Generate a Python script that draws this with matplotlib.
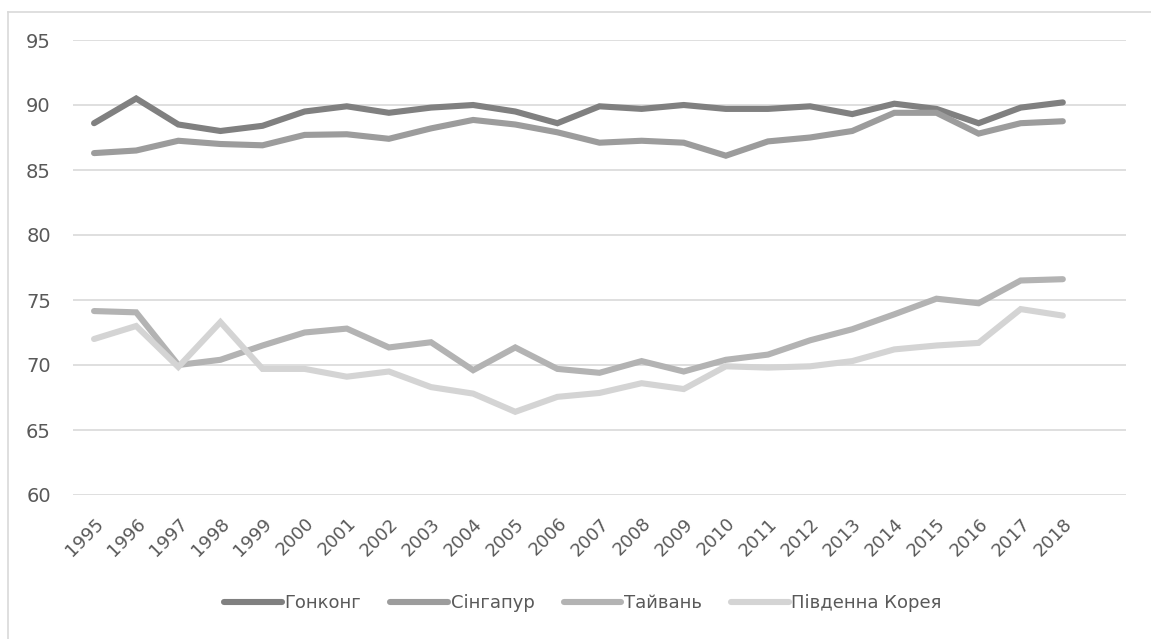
import matplotlib
matplotlib.use("Agg")
import matplotlib.pyplot as plt
from matplotlib.lines import Line2D

years = [str(y) for y in range(1995, 2019)]
hong_kong = [88.6, 90.5, 88.5, 88.0, 88.4, 89.5, 89.9, 89.4, 89.8, 90.0, 89.5, 88.6,
             89.9, 89.7, 90.0, 89.7, 89.7, 89.9, 89.3, 90.1, 89.7, 88.6, 89.8, 90.2]
singapore = [86.3, 86.5, 87.25, 87.0, 86.9, 87.7, 87.75, 87.4, 88.2, 88.85, 88.5, 87.9,
             87.1, 87.25, 87.1, 86.1, 87.2, 87.5, 88.0, 89.4, 89.4, 87.8, 88.6, 88.75]
taiwan = [74.15, 74.05, 70.0, 70.4, 71.5, 72.5, 72.8, 71.35, 71.75, 69.6, 71.35, 69.7,
          69.4, 70.3, 69.5, 70.4, 70.8, 71.9, 72.75, 73.9, 75.1, 74.75, 76.5, 76.6]
korea = [72.0, 73.0, 69.85, 73.3, 69.7, 69.7, 69.1, 69.5, 68.3, 67.8, 66.4, 67.55,
         67.85, 68.6, 68.15, 69.9, 69.8, 69.9, 70.3, 71.2, 71.5, 71.7, 74.3, 73.8]
series_names = ["Гонконг", "Сінгапур", "Тайвань", "Південна Корея"]
y_ticks = [60, 65, 70, 75, 80, 85, 90, 95]

colors = ["#808080", "#9c9c9c", "#b3b3b3", "#d4d4d4"]

fig = plt.figure(figsize=(11.51, 6.39), dpi=100)
ax = fig.add_axes([73/1151, 1-495/639, (1126-73)/1151, (495-40)/639])

x = list(range(len(years)))
for vals, name, c in zip([hong_kong, singapore, taiwan, korea], series_names, colors):
    ax.plot(x, vals, color=c, lw=4.4, solid_capstyle="round", solid_joinstyle="miter", label=name)

ax.set_xlim(-0.5, len(years) + 0.5)
ax.set_ylim(60, 95)
ax.set_yticks(y_ticks)
ax.set_yticklabels([str(v) for v in y_ticks])
ax.set_xticks(x)
ax.set_xticklabels(years, rotation=45, ha="right", rotation_mode="anchor")
ax.tick_params(axis="both", length=0, labelcolor="#595959")
ax.tick_params(axis="y", pad=16, labelsize=14)
ax.tick_params(axis="x", pad=14, labelsize=13)
ax.grid(axis="y", color="#d9d9d9", lw=1.2)
ax.set_axisbelow(True)
for s in ax.spines.values():
    s.set_visible(False)

leg = fig.legend(loc="center", bbox_to_anchor=(583/1151, 1-603/639), ncol=4, frameon=False,
                 fontsize=13, handlelength=3.2, handletextpad=0.15, columnspacing=1.6)
for t in leg.get_texts():
    t.set_color("#595959")

fig.add_artist(Line2D([8/1151, 8/1151], [0, 1-12/639], transform=fig.transFigure, color="#d9d9d9", lw=1.2))
fig.add_artist(Line2D([8/1151, 1], [1-12/639, 1-12/639], transform=fig.transFigure, color="#d9d9d9", lw=1.2))

fig.savefig("out.png", dpi=100)
